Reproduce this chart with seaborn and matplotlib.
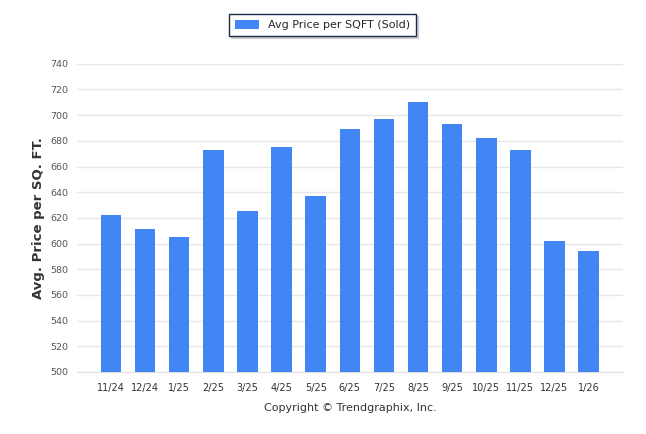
import matplotlib
matplotlib.use("Agg")
import matplotlib.pyplot as plt
import seaborn as sns
import pandas as pd
from matplotlib.patches import Patch

months = ["11/24", "12/24", "1/25", "2/25", "3/25", "4/25", "5/25", "6/25",
          "7/25", "8/25", "9/25", "10/25", "11/25", "12/25", "1/26"]
price_sqft = [622, 611, 605, 673, 625, 675, 637, 689, 697, 710, 693, 682, 673, 602, 594]

df = pd.DataFrame({"month": months, "price": price_sqft})

sns.set_style("white")
plt.rcParams["font.family"] = ["DejaVu Sans"]

fig = plt.figure(figsize=(6.46, 4.34), dpi=100)
ax = fig.add_axes([0.119, 0.143, 0.845, 0.710])

sns.barplot(data=df, x="month", y="price", color="#4285f4", saturation=1,
            width=0.6, linewidth=0, ax=ax, zorder=3)

ax.set_ylim(500, 740)
ax.set_xlim(-1, 15)
ax.set_yticks(range(500, 741, 20))
ax.grid(axis="y", color="#e6e6e6", linewidth=1, zorder=0)
for s in ["top", "right", "left"]:
    ax.spines[s].set_visible(False)
ax.spines["bottom"].set_color("#e0e0e0")
ax.tick_params(axis="y", length=0, labelsize=6.8, labelcolor="#555555", pad=6)
ax.tick_params(axis="x", length=4, color="#e0e0e0", labelsize=7,
               labelcolor="#333333", pad=4)
ax.set_xlabel("")
ax.set_ylabel("Avg. Price per SQ. FT.", fontsize=9.5, fontweight="bold",
              color="#333333", labelpad=4)

fig.text(0.542, 0.06, "Copyright \u00a9 Trendgraphix, Inc.", ha="center",
         va="center", fontsize=8, color="#333333")

handle = Patch(facecolor="#4285f4", edgecolor="none", label="Avg Price per SQFT (Sold)")
leg = fig.legend(handles=[handle], loc="center", bbox_to_anchor=(0.499, 0.942),
                 fontsize=8, frameon=True, fancybox=False,
                 shadow={"ox": 1.5, "oy": -1.5, "color": "#b0b0b0"},
                 handlelength=2.2, handleheight=0.9, borderpad=0.5)
leg.get_frame().set_edgecolor("#1a2a4a")
leg.get_frame().set_linewidth(1)

fig.savefig("out.png", dpi=100)
